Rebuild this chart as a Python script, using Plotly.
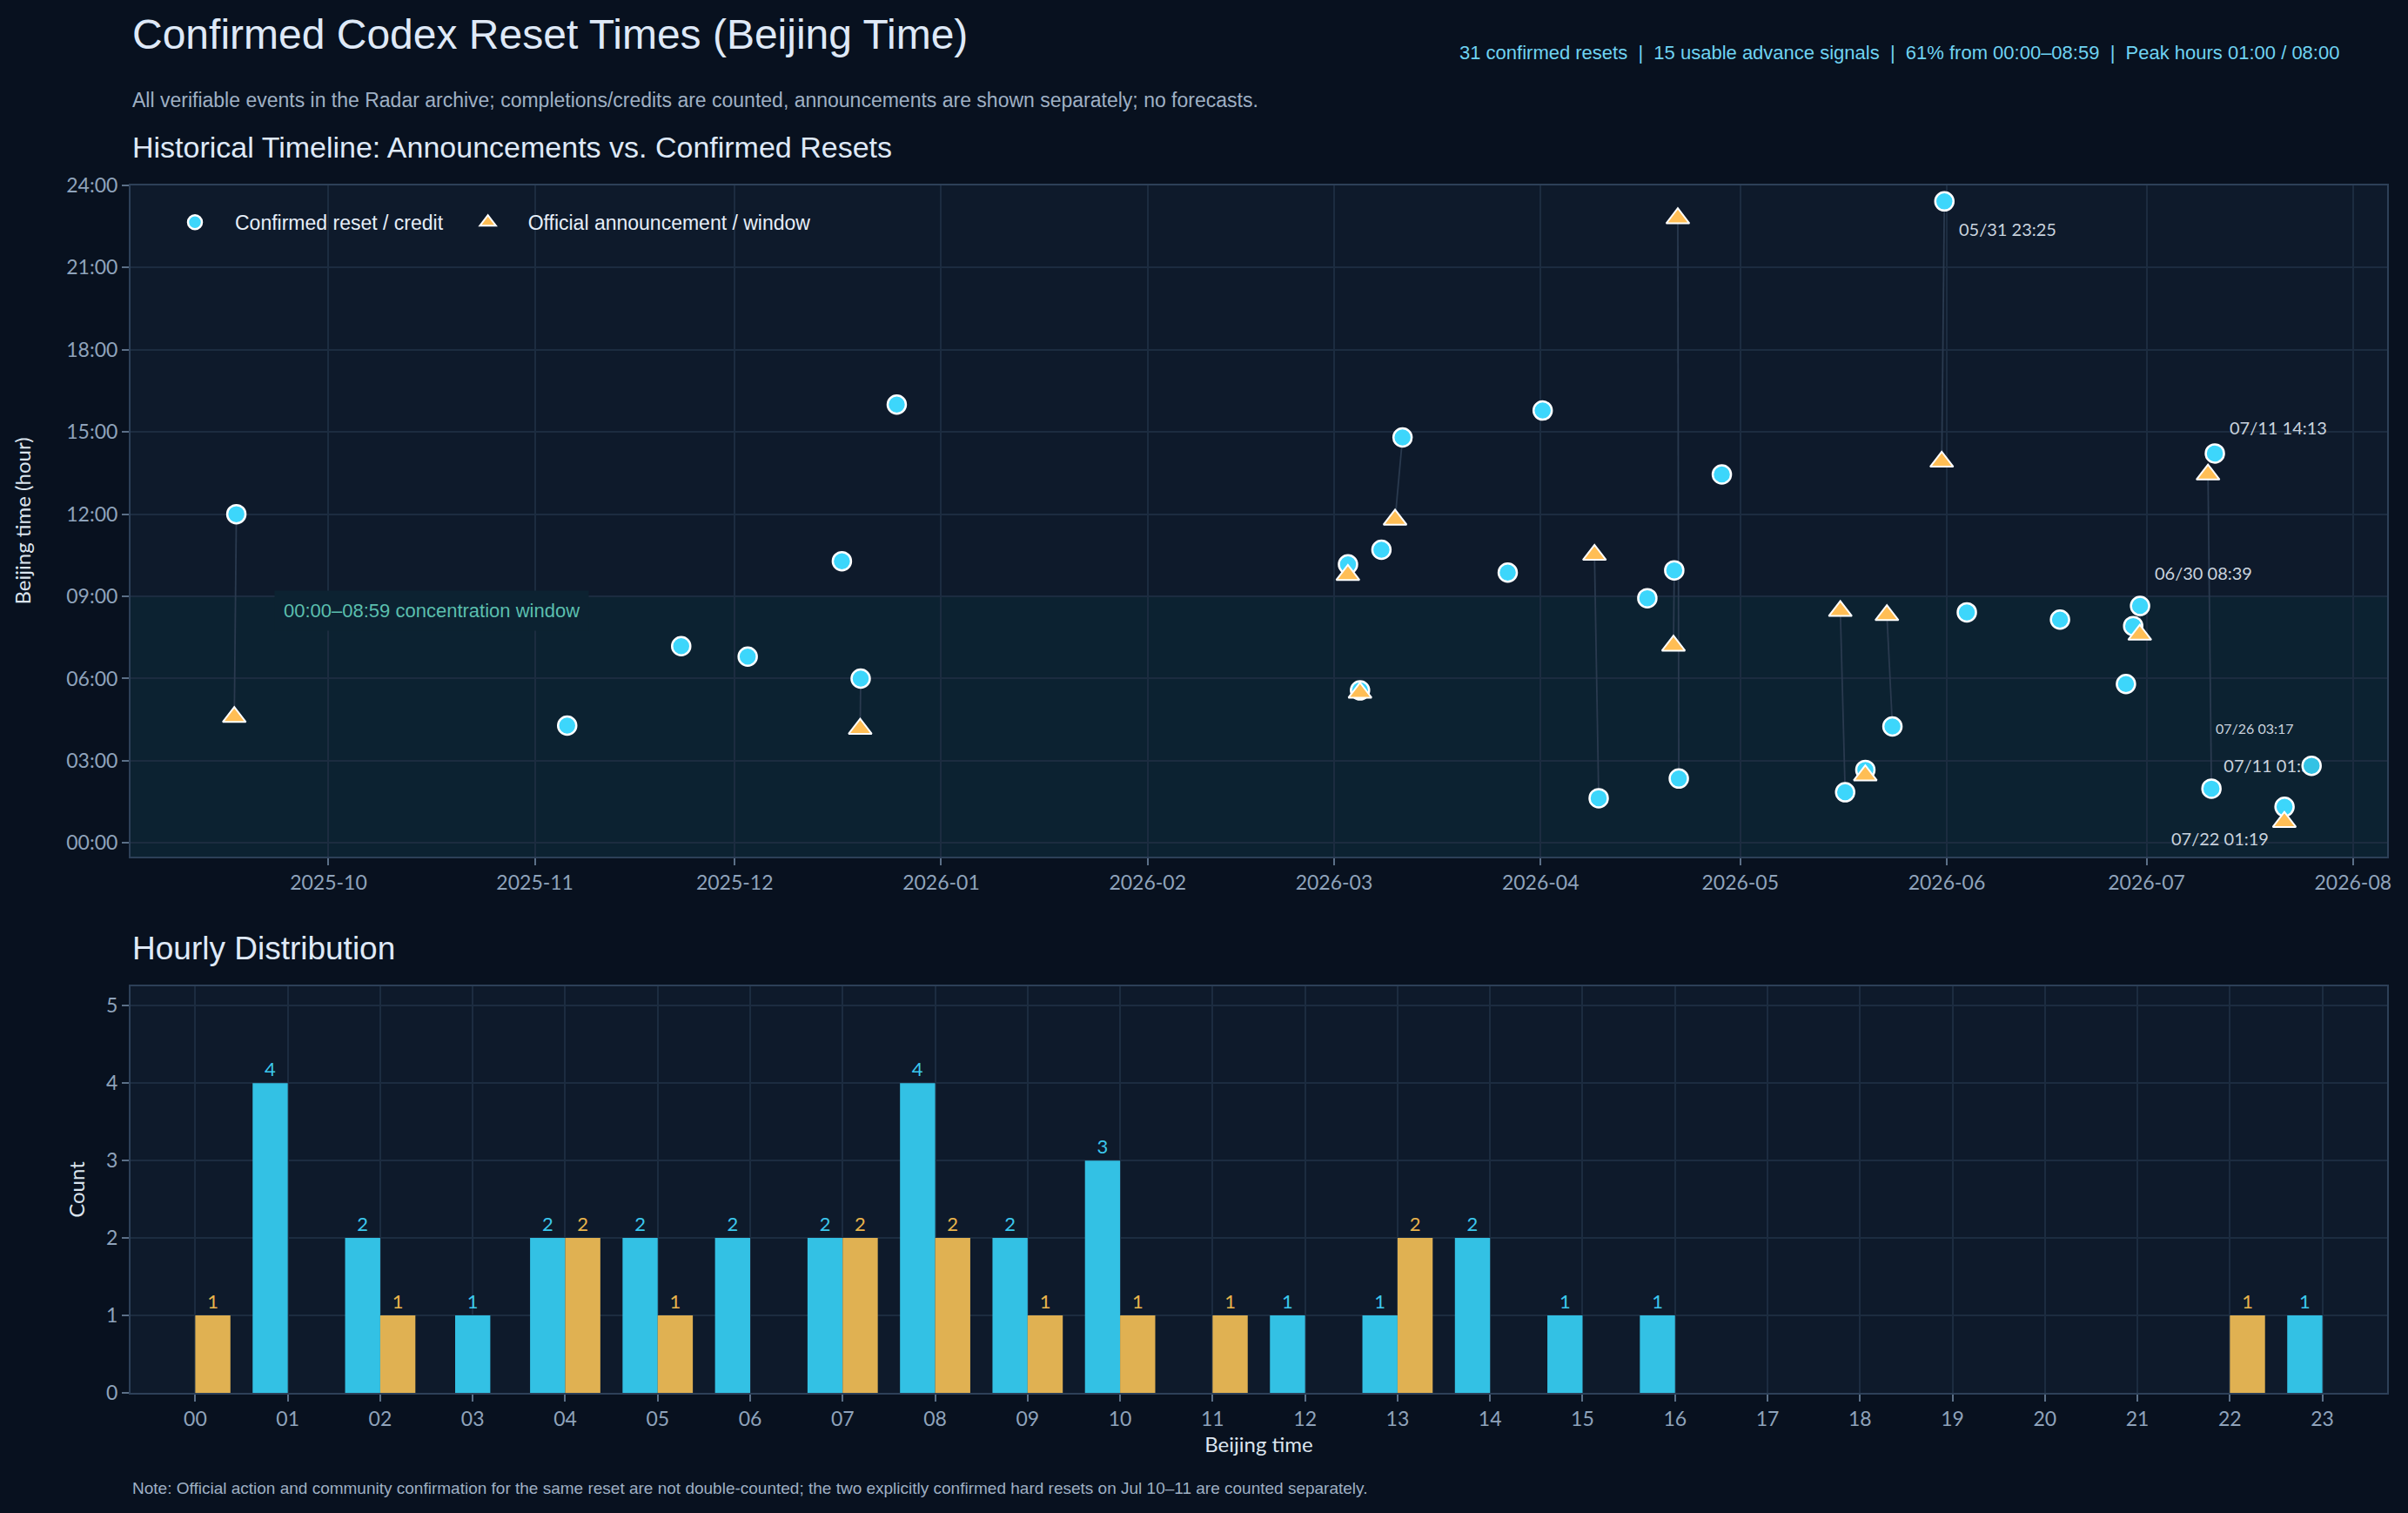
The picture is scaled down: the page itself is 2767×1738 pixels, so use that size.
import pandas as pd
import plotly.graph_objects as go

# ---------------- data (Beijing time) ----------------
confirmed_bj = [
    "2025-09-17 12:00", "2025-11-06 04:17", "2025-11-23 07:11", "2025-12-03 06:48",
    "2025-12-17 10:17", "2025-12-20 06:00", "2025-12-25 16:00", "2026-03-03 10:10",
    "2026-03-05 05:34", "2026-03-08 10:42", "2026-03-11 14:48", "2026-03-27 09:52",
    "2026-04-01 15:47", "2026-04-10 01:38", "2026-04-17 08:56", "2026-04-21 09:57",
    "2026-04-22 02:21", "2026-04-28 13:27", "2026-05-17 01:51", "2026-05-20 02:40",
    "2026-05-24 04:15", "2026-05-31 23:25", "2026-06-04 08:25", "2026-06-18 08:09",
    "2026-06-28 05:48", "2026-06-29 07:55", "2026-06-30 08:39", "2026-07-11 14:13",
    "2026-07-11 01:59", "2026-07-22 01:19",
]
announce_bj = [
    "2025-09-17 04:36", "2025-12-20 04:10", "2026-03-03 09:47", "2026-03-05 05:29",
    "2026-03-10 11:48", "2026-04-09 10:31", "2026-04-21 22:48", "2026-04-21 07:12",
    "2026-05-16 08:28", "2026-05-20 02:28", "2026-05-23 08:19", "2026-05-31 13:55",
    "2026-06-30 07:36", "2026-07-10 13:27", "2026-07-22 00:46",
]
# index of the confirmed reset each announcement belongs to
announce_link = [0, 5, 7, 8, 10, 13, 16, 15, 18, 19, 20, 21, 26, 28, 29]
late_reset_bj = ["2026-07-26 02:49"]
late_label = ["07/26 03:17"]
labelled_idx = [21, 26, 27, 29]      # labels drawn as annotations
under_label_idx = [28]               # label that the late point sits on top of

time_ticks = [0, 3, 6, 9, 12, 15, 18, 21, 24]
time_tick_text = ["00:00", "03:00", "06:00", "09:00", "12:00", "15:00", "18:00", "21:00", "24:00"]

hours = list(range(24))
hour_labels = [f"{h:02d}" for h in hours]
confirmed_counts = [0, 4, 2, 1, 2, 2, 2, 2, 4, 2, 3, 0, 1, 1, 2, 1, 1, 0, 0, 0, 0, 0, 0, 1]
announce_counts = [1, 0, 1, 0, 2, 1, 0, 2, 2, 1, 1, 1, 0, 2, 0, 0, 0, 0, 0, 0, 0, 0, 1, 0]

# ---------------- styling ----------------
PAPER = "#08111f"
PLOT = "#0e1a2b"
BAND = "#0c2231"
GRID = "#1c2c40"
FRAME = "#2d4058"
TICK = "#8fa3bb"
CYAN = "#3dd6fb"
ORANGE = "#ffbe55"
BAR_CYAN = "#33c1e4"
BAR_ORANGE = "#e0b152"
TITLE_FONT = "Liberation Sans"
TICK_FONT = "Lato"
LABEL_COLOR = "#c9d3de"


def to_xy(ts_list):
    ts = pd.to_datetime(ts_list)
    x = (ts - pd.Timedelta(hours=8)).strftime("%Y-%m-%d %H:%M").tolist()
    y = (ts.hour + ts.minute / 60.0).tolist()
    return ts, x, y


c_ts, cx, cy = to_xy(confirmed_bj)
a_ts, ax, ay = to_xy(announce_bj)
l_ts, lx, ly = to_xy(late_reset_bj)

link_x, link_y = [], []
for i, j in enumerate(announce_link):
    link_x += [ax[i], cx[j], None]
    link_y += [ay[i], cy[j], None]

fig = go.Figure()

fig.add_shape(type="rect", xref="x domain", yref="y", x0=0, x1=1, y0=-0.5, y1=9,
              fillcolor=BAND, line_width=0, layer="below")

fig.add_trace(go.Scatter(x=link_x, y=link_y, mode="lines",
                         line=dict(color="#2a3a4f", width=1.8),
                         hoverinfo="skip", showlegend=False, xaxis="x", yaxis="y"))
fig.add_trace(go.Scatter(x=cx, y=cy, mode="markers", name="Confirmed reset / credit",
                         marker=dict(symbol="circle", size=21, color=CYAN,
                                     line=dict(color="white", width=2.5)),
                         xaxis="x", yaxis="y"))
fig.add_trace(go.Scatter(x=ax, y=ay, mode="markers", name="Official announcement / window",
                         marker=dict(symbol="triangle-up", size=23, color=ORANGE,
                                     line=dict(color="white", width=2)),
                         xaxis="x", yaxis="y"))

# label drawn as text so the late point can sit on top of it
fig.add_trace(go.Scatter(x=[cx[i] for i in under_label_idx], y=[cy[i] for i in under_label_idx],
                         mode="markers+text",
                         text=[c_ts[i].strftime("%m/%d %H:%M") for i in under_label_idx],
                         textposition="top right",
                         textfont=dict(family=TICK_FONT, size=20, color=LABEL_COLOR),
                         marker=dict(size=21, opacity=0),
                         hoverinfo="skip", showlegend=False, xaxis="x", yaxis="y"))

fig.add_trace(go.Scatter(x=lx, y=ly, mode="markers", showlegend=False,
                         marker=dict(symbol="circle", size=21, color="#33c2e4",
                                     line=dict(color="white", width=2.5)),
                         xaxis="x", yaxis="y"))

# ---------------- hourly distribution ----------------
c_offset = [-0.19 if h == 3 else -0.38 for h in hours]
fig.add_trace(go.Bar(x=hours, y=confirmed_counts, width=0.38, offset=c_offset,
                     marker=dict(color=BAR_CYAN, line=dict(width=0)),
                     text=[str(v) if v else "" for v in confirmed_counts],
                     textposition="outside", cliponaxis=False,
                     textfont=dict(family=TICK_FONT, size=22, color="#3cc8ee"),
                     showlegend=False, hoverinfo="skip", xaxis="x2", yaxis="y2"))
fig.add_trace(go.Bar(x=hours, y=announce_counts, width=0.38, offset=0,
                     marker=dict(color=BAR_ORANGE, line=dict(width=0)),
                     text=[str(v) if v else "" for v in announce_counts],
                     textposition="outside", cliponaxis=False,
                     textfont=dict(family=TICK_FONT, size=22, color="#e9b44c"),
                     showlegend=False, hoverinfo="skip", xaxis="x2", yaxis="y2"))

axis_common = dict(showgrid=True, gridcolor=GRID, gridwidth=1.5, showline=True,
                   linecolor=FRAME, linewidth=2, mirror=True, ticks="outside",
                   ticklen=8, tickwidth=2, tickcolor="#5b6f87", zeroline=False,
                   automargin=False,
                   tickfont=dict(family=TICK_FONT, size=23, color=TICK))
title_font = dict(family=TICK_FONT, size=24, color="#dbe4ee")

fig.update_layout(
    width=2767, height=1738, template="none",
    margin=dict(l=150, r=24, t=213, b=138),
    paper_bgcolor=PAPER, plot_bgcolor=PLOT,
    barmode="overlay",
    xaxis=dict(domain=[0, 1], anchor="y", type="date",
               range=["2025-09-01 06:40", "2026-08-06 03:00"],
               tickformat="%Y-%m", dtick="M1", tick0="2025-10-01", **axis_common),
    yaxis=dict(domain=[0.4441, 1], anchor="x", range=[-0.5, 24],
               tickvals=time_ticks, ticktext=time_tick_text,
               title=dict(text="Beijing time (hour)", font=title_font, standoff=34),
               **axis_common),
    xaxis2=dict(domain=[0, 1], anchor="y2", range=[-0.7, 23.7],
                tickvals=hours, ticktext=hour_labels,
                title=dict(text="Beijing time", font=title_font, standoff=10),
                **axis_common),
    yaxis2=dict(domain=[0, 0.3367], anchor="x2", range=[0, 5.25], dtick=1,
                title=dict(text="Count", font=title_font, standoff=18),
                **axis_common),
    legend=dict(orientation="h", x=0.0108, y=0.985, xanchor="left", yanchor="top",
                bgcolor="rgba(0,0,0,0)", itemwidth=82,
                font=dict(family=TITLE_FONT, size=23, color="#e6eef8")),
    showlegend=True,
)

# point labels as annotations (pixel offsets from the point)
label_shift = [(15, -32, "left"), (15, 38, "left"), (15, 30, "left"), (-16, -36, "right")]
for i, (dx, dy, anc) in zip(labelled_idx, label_shift):
    fig.add_annotation(x=cx[i], y=cy[i], xref="x", yref="y", showarrow=False,
                       text=c_ts[i].strftime("%m/%d %H:%M"), xanchor=anc, yanchor="middle",
                       xshift=dx, yshift=dy,
                       font=dict(family=TICK_FONT, size=20, color=LABEL_COLOR))
fig.add_annotation(x=lx[0], y=ly[0], xref="x", yref="y", showarrow=False,
                   text=late_label[0], xanchor="right", yanchor="middle",
                   xshift=-18, yshift=43,
                   font=dict(family=TICK_FONT, size=16, color=LABEL_COLOR))

ann = [
    dict(text="Confirmed Codex Reset Times (Beijing Time)", x=0, y=1.1254,
         font=dict(family=TITLE_FONT, size=48, color="#dfe9f7")),
    dict(text="All verifiable events in the Radar archive; completions/credits are counted, "
              "announcements are shown separately; no forecasts.", x=0, y=1.0707,
         font=dict(family=TITLE_FONT, size=23, color="#9fb0c4")),
    dict(text="Historical Timeline: Announcements vs. Confirmed Resets", x=0, y=1.0317,
         font=dict(family=TITLE_FONT, size=34, color="#dfe9f7")),
    dict(text="Hourly Distribution", x=0, y=0.3684,
         font=dict(family=TITLE_FONT, size=37, color="#dfe9f7")),
    dict(text="Note: Official action and community confirmation for the same reset are not "
              "double-counted; the two explicitly confirmed hard resets on Jul 10–11 are counted separately.",
         x=0, y=-0.0793, font=dict(family=TITLE_FONT, size=19, color="#9fb0c4")),
]
for a in ann:
    fig.add_annotation(xref="paper", yref="paper", xanchor="left", yanchor="middle",
                       showarrow=False, **a)

fig.add_annotation(xref="paper", yref="paper", x=0.9796, y=1.1103, xanchor="right",
                   yanchor="middle", showarrow=False,
                   text="31 confirmed resets  |  15 usable advance signals  |  "
                        "61% from 00:00–08:59  |  Peak hours 01:00 / 08:00",
                   font=dict(family=TITLE_FONT, size=22, color="#6fd3f2"))

fig.add_annotation(xref="x domain", yref="y", x=0.0637, y=8.47, xanchor="left",
                   yanchor="middle", showarrow=False, bgcolor=BAND, borderpad=10,
                   text="00:00–08:59 concentration window",
                   font=dict(family=TITLE_FONT, size=22, color="#5bbfae"))

fig.write_html(
    "out.html",
    config={"displayModeBar": False},
    post_script=("document.body.style.margin='0';document.body.style.padding='0';"
                 "document.body.style.background='#08111f';"
                 "document.body.style.overflow='hidden';"),
)
